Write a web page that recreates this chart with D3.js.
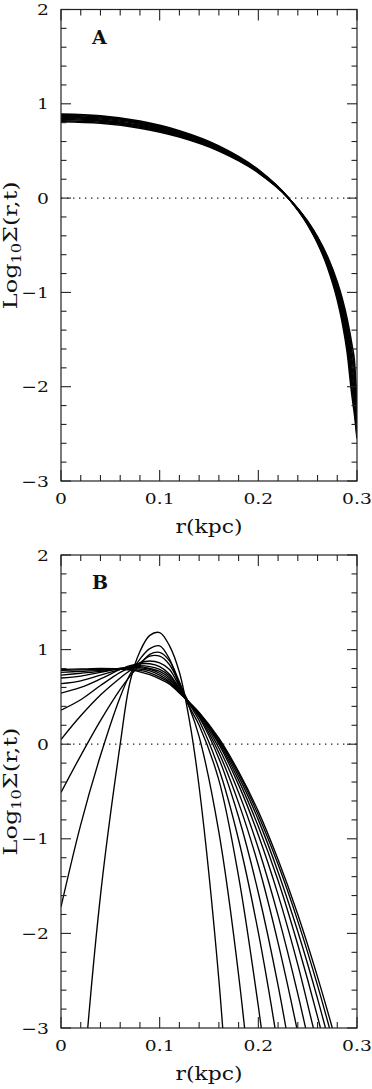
<!DOCTYPE html>
<style>
  body { margin: 0; background: #fff; }
  text { font-family: "DejaVu Serif", serif; fill: #111; }
</style>
<body></body>
<script src="https://cdn.jsdelivr.net/npm/d3@7"></script>
<script>
  const width = 372
  const height = 1089

  // panel A: radius grid and profiles (one per time step)
  const rA = [0, 0.04, 0.08, 0.12, 0.16, 0.2, 0.23, 0.25, 0.26, 0.27, 0.28, 0.285, 0.29, 0.295, 0.2975, 0.3]
  const profilesA = [
    [0.810, 0.793, 0.741, 0.647, 0.499, 0.269, 0.007, -0.246, -0.412, -0.618, -0.890, -1.065, -1.281, -1.562, -1.74, -2.25],
    [0.821, 0.804, 0.752, 0.657, 0.507, 0.274, 0.007, -0.251, -0.421, -0.634, -0.917, -1.101, -1.332, -1.640, -1.82, -2.30],
    [0.833, 0.816, 0.763, 0.666, 0.514, 0.278, 0.007, -0.257, -0.431, -0.650, -0.944, -1.137, -1.382, -1.717, -1.90, -2.35],
    [0.844, 0.827, 0.773, 0.676, 0.522, 0.283, 0.007, -0.262, -0.440, -0.666, -0.971, -1.173, -1.432, -1.795, -1.98, -2.40],
    [0.856, 0.838, 0.784, 0.685, 0.530, 0.287, 0.007, -0.267, -0.450, -0.682, -0.998, -1.209, -1.483, -1.872, -2.06, -2.44],
    [0.867, 0.849, 0.795, 0.695, 0.538, 0.292, 0.007, -0.272, -0.459, -0.698, -1.025, -1.245, -1.533, -1.949, -2.14, -2.48],
    [0.879, 0.861, 0.805, 0.704, 0.545, 0.296, 0.007, -0.278, -0.469, -0.714, -1.052, -1.281, -1.584, -2.027, -2.22, -2.52],
    [0.890, 0.872, 0.816, 0.714, 0.553, 0.301, 0.007, -0.283, -0.478, -0.730, -1.079, -1.317, -1.634, -2.104, -2.30, -2.55]
  ]

  // panel B: radius grid and profiles
  const rB = [0, 0.02, 0.04, 0.06, 0.07, 0.08, 0.09, 0.1, 0.11, 0.12, 0.13, 0.14, 0.16, 0.18, 0.2, 0.22, 0.24, 0.26, 0.28, 0.3]
  const profilesB = [
    [0.79, 0.795, 0.80, 0.795, 0.785, 0.765, 0.735, 0.69, 0.635, 0.54, 0.44, 0.336, 0.063, -0.29, -0.71, -1.22, -1.80, -2.46, -3.19, -4.0],
    [0.78, 0.785, 0.79, 0.795, 0.79, 0.78, 0.755, 0.71, 0.65, 0.545, 0.441, 0.33, 0.049, -0.31, -0.75, -1.27, -1.87, -2.55, -3.31, -4.15],
    [0.76, 0.77, 0.78, 0.80, 0.80, 0.795, 0.775, 0.73, 0.66, 0.55, 0.44, 0.326, 0.034, -0.34, -0.80, -1.35, -1.98, -2.69, -3.49, -4.4],
    [0.73, 0.75, 0.77, 0.80, 0.81, 0.81, 0.79, 0.75, 0.68, 0.56, 0.44, 0.32, 0.018, -0.38, -0.87, -1.44, -2.12, -2.88, -3.73, -4.6],
    [0.70, 0.72, 0.76, 0.80, 0.815, 0.82, 0.80, 0.77, 0.70, 0.57, 0.44, 0.32, 0.0, -0.43, -0.96, -1.59, -2.33, -3.18, -4.0, -5.0],
    [0.64, 0.67, 0.73, 0.79, 0.82, 0.83, 0.82, 0.79, 0.72, 0.58, 0.437, 0.31, -0.04, -0.51, -1.10, -1.81, -2.64, -3.58, -4.6, -5.7],
    [0.54, 0.60, 0.69, 0.79, 0.83, 0.85, 0.85, 0.82, 0.74, 0.59, 0.435, 0.296, -0.09, -0.62, -1.28, -2.10, -3.05, -4.1, -5.3, -6.6],
    [0.36, 0.47, 0.62, 0.76, 0.81, 0.86, 0.88, 0.86, 0.79, 0.61, 0.433, 0.285, -0.15, -0.77, -1.57, -2.55, -3.72, -5.0, -6.5, -8.0],
    [0.05, 0.30, 0.52, 0.70, 0.78, 0.86, 0.93, 0.93, 0.84, 0.64, 0.43, 0.25, -0.26, -1.01, -1.99, -3.20, -4.6, -6.2, -8.0, -10],
    [-0.51, -0.12, 0.25, 0.58, 0.72, 0.84, 0.95, 0.97, 0.88, 0.66, 0.40, 0.20, -0.38, -1.40, -2.77, -4.3, -6.0, -8.0, -10, -12],
    [-1.72, -0.85, -0.12, 0.50, 0.74, 0.90, 1.01, 1.04, 0.90, 0.62, 0.39, 0.08, -0.93, -2.44, -4.47, -7, -9, -11, -13, -15],
    [-7.0, -3.9, -1.6, 0.0, 0.66, 0.98, 1.15, 1.18, 1.04, 0.76, 0.26, -0.45, -2.49, -5.4, -8, -10, -12, -14, -16, -18]
  ]

  const xTicks = [0, 0.1, 0.2, 0.3]
  const yTicks = [2, 1, 0, -1, -2, -3]

  const frameColor = "#222"

  const svg = d3.select("body")
    .append("svg")
    .attr("width", width)
    .attr("height", height)

  const x = d3.scaleLinear().domain([0, 0.3]).range([61, 357])

  function renderPanel(id, top, bottom, grid, profiles, label, lineWidth, curve) {
    const y = d3.scaleLinear().domain([-3, 2]).range([bottom, top])
    const g = svg.append("g")

    g.append("clipPath").attr("id", "clip" + id)
      .append("rect")
      .attr("x", x(0)).attr("y", top)
      .attr("width", x(0.3) - x(0)).attr("height", bottom - top)

    // zero line, dotted
    g.append("line")
      .attr("x1", x(0)).attr("x2", x(0.3))
      .attr("y1", y(0)).attr("y2", y(0))
      .attr("stroke", "#222")
      .attr("stroke-width", 1.3)
      .attr("stroke-dasharray", "1.4,4.6")

    const line = d3.line()
      .x((d, i) => x(grid[i]))
      .y(d => y(d))
      .curve(curve)

    g.append("g")
      .attr("clip-path", `url(#clip${id})`)
      .selectAll("path")
      .data(profiles)
      .enter()
      .append("path")
      .attr("d", line)
      .attr("fill", "none")
      .attr("stroke", "#000")
      .attr("stroke-width", lineWidth)
      .attr("stroke-linejoin", "round")

    // ticks pointing inward on all four sides
    const minorX = d3.range(0, 0.3001, 0.02)
    const minorY = d3.range(-3, 2.001, 0.2)
    const isMajorX = v => Math.abs(v * 10 - Math.round(v * 10)) < 1e-6
    const ticks = g.append("g").attr("stroke", frameColor).attr("stroke-width", 1.1)

    minorX.forEach(v => {
      const len = isMajorX(v) ? 11 : 6
      ticks.append("line").attr("x1", x(v)).attr("x2", x(v)).attr("y1", bottom).attr("y2", bottom - len)
      ticks.append("line").attr("x1", x(v)).attr("x2", x(v)).attr("y1", top).attr("y2", top + len)
    })
    minorY.forEach(v => {
      const len = Math.abs(v - Math.round(v)) < 1e-6 ? 10 : 5.5
      ticks.append("line").attr("x1", x(0)).attr("x2", x(0) + len).attr("y1", y(v)).attr("y2", y(v))
      ticks.append("line").attr("x1", x(0.3)).attr("x2", x(0.3) - len).attr("y1", y(v)).attr("y2", y(v))
    })

    g.append("rect")
      .attr("x", x(0)).attr("y", top)
      .attr("width", x(0.3) - x(0)).attr("height", bottom - top)
      .attr("fill", "none")
      .attr("stroke", frameColor)
      .attr("stroke-width", 1.2)

    // tick labels
    const fmtX = d => d === 0 ? "0" : d3.format(".1f")(d)
    g.selectAll("text.xtick")
      .data(xTicks)
      .enter()
      .append("text")
      .attr("transform", d => `translate(${x(d)},${bottom + 23}) scale(1.25,1)`)
      .attr("text-anchor", "middle")
      .style("font-size", "15px")
      .text(fmtX)

    g.selectAll("text.ytick")
      .data(yTicks)
      .enter()
      .append("text")
      .attr("transform", d => `translate(49,${y(d) + 5.5}) scale(1.25,1)`)
      .attr("text-anchor", "end")
      .style("font-size", "15px")
      .text(d3.format("d"))

    // axis titles
    g.append("text")
      .attr("x", x(0.15))
      .attr("y", bottom + 52)
      .attr("text-anchor", "middle")
      .attr("textLength", 67)
      .attr("lengthAdjust", "spacingAndGlyphs")
      .style("font-size", "19px")
      .text("r(kpc)")

    const cy = (top + bottom) / 2
    const ytitle = g.append("text")
      .attr("transform", `translate(17,${cy}) rotate(-90)`)
      .attr("text-anchor", "middle")
      .attr("textLength", 128)
      .attr("lengthAdjust", "spacingAndGlyphs")
      .style("font-size", "18px")
    ytitle.append("tspan").text("Log")
    ytitle.append("tspan").attr("dy", 4).style("font-size", "12px").text("10")
    ytitle.append("tspan").attr("dy", -4).text("Σ(r,t)")

    g.append("text")
      .attr("x", 92)
      .attr("y", top + 34)
      .style("font-size", "19px")
      .style("font-weight", "bold")
      .text(label)
  }

  renderPanel("A", 9.5, 481, rA, profilesA, "A", 1.6, d3.curveMonotoneX)
  renderPanel("B", 555, 1028, rB, profilesB, "B", 1.35, d3.curveCatmullRom.alpha(0.5))
</script>
